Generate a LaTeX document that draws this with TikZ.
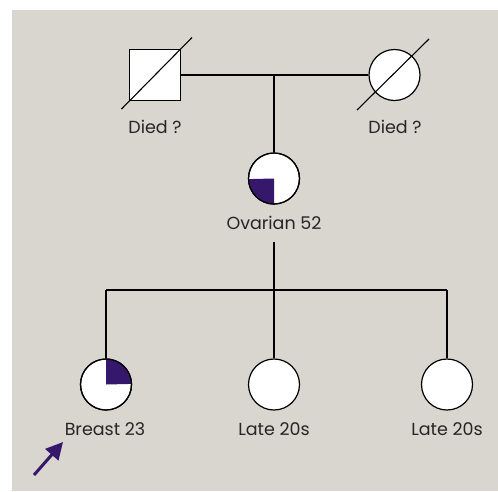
\documentclass[tikz,border=0pt]{standalone}
\usepackage{fontspec}
\setmainfont{Poppins}
\usetikzlibrary{arrows.meta}
\definecolor{panel}{HTML}{D9D5CF}
\definecolor{affected}{HTML}{35186B}
\tikzset{
  person/.style={draw=black, fill=white, line width=1.2pt},
  male/.style={person, rectangle, minimum size=51pt, inner sep=0pt},
  female/.style={person, circle, minimum size=51pt, inner sep=0pt},
  link/.style={draw=black, line width=1.1pt},
  deceased/.style={draw=black, line width=1.1pt},
  caption/.style={font=\fontsize{17.5}{20}\selectfont, text=black!85, inner sep=0pt},
  proband/.style={draw=affected, line width=3pt, -{Triangle[length=17pt,width=17pt]}}
}
\begin{document}
\begin{tikzpicture}[x=1pt,y=-1pt]
  \useasboundingbox (0,0) rectangle (498,491);
  \fill[panel] (12,10) rectangle (498,491);

  % grandparents
  \node[male]   (gf) at (155,75) {};
  \node[female] (gm) at (394.5,75) {};
  \draw[deceased] (121.5,109) -- (192,37.5);
  \draw[deceased] (357,110) -- (429,39);
  \node[caption] (gfl) at (155,127) {Died ?};
  \node[caption] (gml) at (395,127) {Died ?};
  \draw[link] (gf.east) -- (gm.west);
  \coordinate (union) at (274,75);

  % mother
  \node[female] (mo) at (274,178.5) {};
  \fill[affected] (mo.center) -- (mo.south) arc[start angle=270, end angle=180, radius=25.5pt] -- cycle;
  \draw[line width=1.2pt] (mo) circle[radius=25.5pt];
  \node[caption] (mol) at (274,223) {Ovarian 52};
  \draw[link] (union) -- (mo.north);

  % children
  \node[female] (c1) at (106,384.5) {};
  \node[female] (c2) at (274,384.5) {};
  \node[female] (c3) at (447,384.5) {};
  \fill[affected] (c1.center) -- (c1.north) arc[start angle=90, end angle=0, radius=25.5pt] -- cycle;
  \draw[line width=1.2pt] (c1) circle[radius=25.5pt];
  \node[caption] (c1l) at (105,429) {Breast 23};
  \node[caption] (c2l) at (274,429) {Late 20s};
  \node[caption] (c3l) at (447,429) {Late 20s};

  \coordinate (desc) at (274,241.5);
  \coordinate (sib) at (274,290);
  \coordinate (sibL) at (106,290);
  \coordinate (sibR) at (447,290);
  \draw[link] (desc) -- (sib);
  \draw[link] (sibL) -- (sibR);
  \draw[link] (sibL) -- (c1.north);
  \draw[link] (sib) -- (c2.north);
  \draw[link] (sibR) -- (c3.north);

  % proband marker
  \coordinate (ptail) at (34,475);
  \coordinate (ptip) at (63,442);
  \draw[proband] (ptail) -- (ptip);
\end{tikzpicture}
\end{document}
